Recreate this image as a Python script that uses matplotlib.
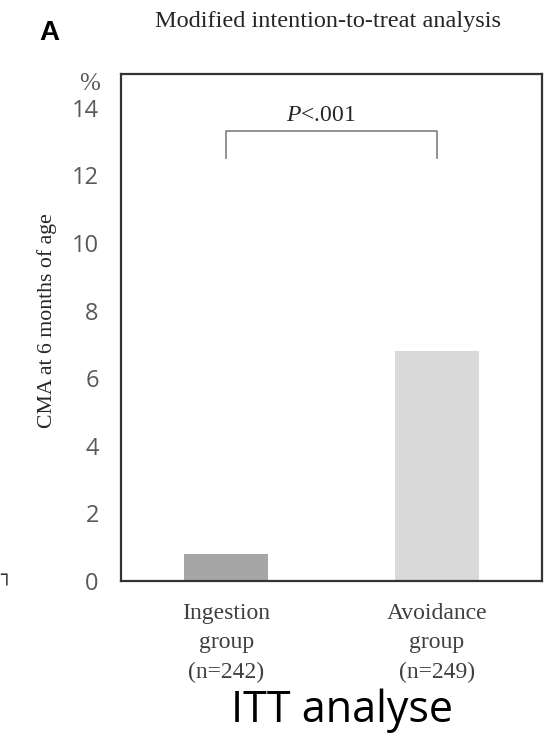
import matplotlib
matplotlib.use("Agg")
import matplotlib.pyplot as plt

plt.rcParams["mathtext.fontset"] = "custom"
plt.rcParams["mathtext.it"] = "Liberation Serif:italic"
plt.rcParams["mathtext.rm"] = "Liberation Serif"

categories = ["Ingestion\ngroup\n(n=242)", "Avoidance\ngroup\n(n=249)"]
values = [0.8, 6.8]
bar_colors = ["#a6a6a6", "#d9d9d9"]
yticks = [0, 2, 4, 6, 8, 10, 12, 14]
p_text = "<.001"
bracket_y = [12.5, 13.3]

W, H = 544, 735
fig = plt.figure(figsize=(W / 100, H / 100), dpi=100)
ax = fig.add_axes([121 / W, 1 - 581 / H, (542 - 121) / W, (581 - 74) / H])

x = list(range(len(categories)))
ax.bar(x, values, width=0.4, color=bar_colors, zorder=2)
ax.set_xlim(-0.5, 1.5)
ax.set_ylim(0, 15)
ax.set_yticks(yticks)
ax.set_yticklabels([str(t) for t in yticks], fontsize=17, color="#595959",
                   family="Open Sans")
ax.tick_params(axis="y", length=0, pad=16)
ax.set_xticks(x)
ax.set_xticklabels(categories, fontsize=17, color="#404040",
                   family="Liberation Serif", linespacing=1.55)
ax.tick_params(axis="x", length=0, pad=15.5)
for s in ax.spines.values():
    s.set_linewidth(1.6)
    s.set_color("#333333")

# significance bracket
ax.plot([x[0], x[0], x[1], x[1]],
        [bracket_y[0], bracket_y[1], bracket_y[1], bracket_y[0]],
        color="#7f7f7f", lw=1.2, zorder=3)
ax.text((x[0] + x[1]) / 2 - 0.05, 13.45, "$\\it{P}$" + p_text, ha="center",
        va="bottom", fontsize=17, family="Liberation Serif", color="#262626")

ax.set_ylabel("CMA at 6 months of age", fontsize=15.7, family="Liberation Serif",
              color="#262626")
ax.yaxis.set_label_coords(-0.152, 0.513)

fig.text(49 / W, 1 - 33 / H, "A", fontsize=20, fontweight="bold",
         family="Liberation Sans", ha="center", va="center")
fig.text(328 / W, 1 - 21 / H, "Modified intention-to-treat analysis",
         fontsize=17.5, family="Liberation Serif", color="#262626",
         ha="center", va="center")
fig.text(90 / W, 1 - 84 / H, "%", fontsize=18, family="Liberation Serif",
         color="#595959", ha="center", va="center")
fig.text(342 / W, 1 - 722 / H, "ITT analyse", fontsize=31, family="Open Sans",
         color="black", ha="center", va="baseline")
fig.text(0 / W, 1 - 577 / H, "┐", fontsize=14, family="DejaVu Sans",
         color="#333333", ha="left", va="center")

fig.savefig("out.png", dpi=100)
